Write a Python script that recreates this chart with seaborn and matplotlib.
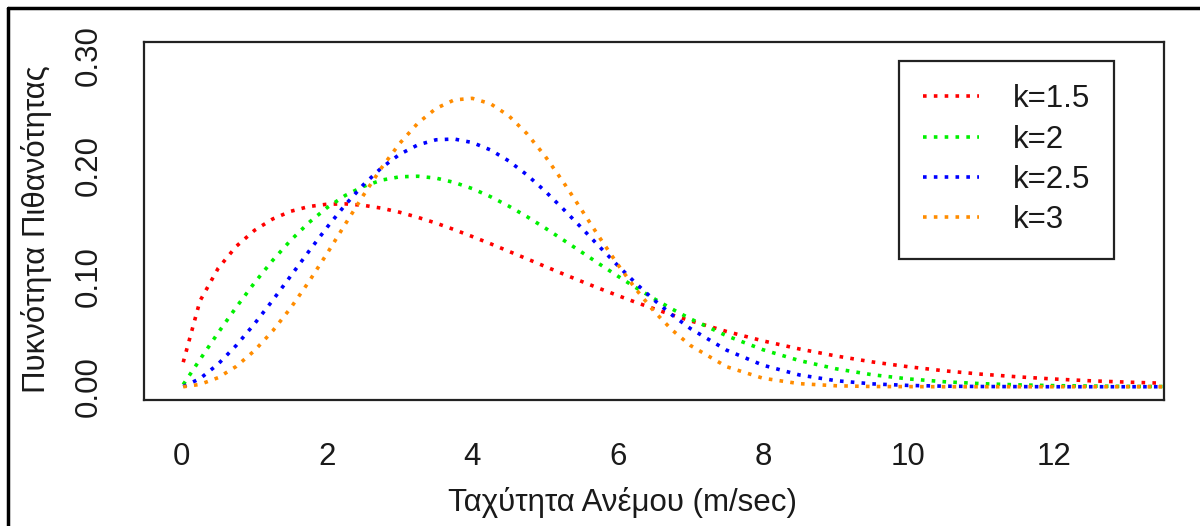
import numpy as np
import pandas as pd
import matplotlib
matplotlib.use("Agg")
import matplotlib.pyplot as plt
from matplotlib.lines import Line2D
import seaborn as sns

# Wind speed grid (m/sec) and densities
wind_speed = [0.02, 0.25, 0.5, 0.75, 1.0, 1.25, 1.5, 1.75, 2.0, 2.25, 2.5, 2.75, 3.0,
              3.25, 3.5, 3.75, 4.0, 4.25, 4.5, 4.75, 5.0, 5.25, 5.5, 5.75, 6.0, 6.25,
              6.5, 6.75, 7.0, 7.5, 8.0, 8.5, 9.0, 9.5, 10.0, 10.5, 11.0, 11.5, 12.0,
              12.5, 13.0, 13.5]

density_k15 = [0.0222, 0.0776, 0.1071, 0.1271, 0.1415, 0.1518, 0.1588, 0.1631, 0.1652,
               0.1655, 0.1642, 0.1616, 0.1579, 0.1533, 0.1481, 0.1422, 0.1359, 0.1294,
               0.1226, 0.1158, 0.1089, 0.1021, 0.0954, 0.0889, 0.0826, 0.0764, 0.0706,
               0.0650, 0.0597, 0.0500, 0.0415, 0.0342, 0.0279, 0.0225, 0.0181, 0.0144,
               0.0114, 0.0090, 0.0070, 0.0054, 0.0042, 0.0032]

density_k2 = [0.0020, 0.0246, 0.0488, 0.0720, 0.0940, 0.1143, 0.1326, 0.1486, 0.1621,
              0.1731, 0.1813, 0.1870, 0.1900, 0.1905, 0.1888, 0.1849, 0.1793, 0.1720,
              0.1635, 0.1540, 0.1437, 0.1329, 0.1220, 0.1110, 0.1002, 0.0897, 0.0797,
              0.0703, 0.0615, 0.0461, 0.0335, 0.0237, 0.0163, 0.0109, 0.0071, 0.0045,
              0.0028, 0.0017, 0.0010, 0.0006, 0.0003, 0.0002]

density_k25 = [0.0002, 0.0073, 0.0205, 0.0374, 0.0569, 0.0781, 0.1003, 0.1226, 0.1443,
               0.1646, 0.1828, 0.1982, 0.2104, 0.2189, 0.2235, 0.2242, 0.2210, 0.2143,
               0.2044, 0.1918, 0.1771, 0.1609, 0.1440, 0.1267, 0.1098, 0.0936, 0.0786,
               0.0649, 0.0527, 0.0331, 0.0195, 0.0107, 0.0055, 0.0026, 0.0012, 0.0005,
               0.0002, 0.0001, 0.0, 0.0, 0.0, 0.0]

density_k3 = [0.0000, 0.0021, 0.0082, 0.0184, 0.0326, 0.0504, 0.0714, 0.0951, 0.1206,
              0.1471, 0.1733, 0.1982, 0.2203, 0.2386, 0.2519, 0.2596, 0.2610, 0.2561,
              0.2453, 0.2291, 0.2088, 0.1854, 0.1604, 0.1351, 0.1108, 0.0883, 0.0683,
              0.0513, 0.0374, 0.0181, 0.0077, 0.0028, 0.0009, 0.0002, 0.0001, 0.0,
              0.0, 0.0, 0.0, 0.0, 0.0, 0.0]

k_labels = ["k=1.5", "k=2", "k=2.5", "k=3"]
x_ticks = [0, 2, 4, 6, 8, 10, 12]
y_ticks = [0.0, 0.05, 0.10, 0.15, 0.20, 0.25, 0.30]
y_ticklabels = ["0.00", "", "0.10", "", "0.20", "", "0.30"]

colors = ["#FF0000", "#00F000", "#0000FF", "#FF8C00"]

# long format table for seaborn
frames = []
for lab, dens in zip(k_labels, [density_k15, density_k2, density_k25, density_k3]):
    frames.append(pd.DataFrame({"speed": wind_speed, "density": dens, "k": lab}))
df = pd.concat(frames, ignore_index=True)

sns.set_style("white")
plt.rcParams["font.family"] = ["Liberation Sans", "DejaVu Sans"]
FS = 22.5

W, H = 1200, 526
fig = plt.figure(figsize=(W / 100, H / 100), dpi=100)
ax = fig.add_axes([144 / W, 1 - 400 / H, (1164 - 144) / W, (400 - 42) / H])

sns.lineplot(data=df, x="speed", y="density", hue="k", style="k",
             palette=dict(zip(k_labels, colors)),
             dashes={lab: (1, 2) for lab in k_labels},
             estimator=None, sort=False, linewidth=2.6, legend=False, ax=ax)

ax.set_xlim(-0.52, 13.52)
ax.set_ylim(-0.012, 0.312)
ax.set_xticks(x_ticks)
ax.set_xticklabels([str(t) for t in x_ticks])
ax.set_yticks(y_ticks)
ax.set_yticklabels(y_ticklabels, rotation=90, va="center")

for sp in ax.spines.values():
    sp.set_visible(True)
    sp.set_color("#222222")
    sp.set_linewidth(1.6)

ax.tick_params(axis="both", direction="out", length=13, width=1.5, color="#222222",
               labelsize=FS, labelcolor="#1a1a1a")
ax.tick_params(axis="x", pad=17)
ax.tick_params(axis="y", pad=16)

ax.set_xlabel("Ταχύτητα Ανέμου (m/sec)", fontsize=FS, color="#1a1a1a")
ax.set_ylabel("Πυκνότητα Πιθανότητας", fontsize=FS, color="#1a1a1a")
ax.xaxis.set_label_coords((623 - 144) / 1020, (400 - 487) / 358)
ax.yaxis.set_label_coords((52 - 144) / 1020, (400 - 229) / 358)

handles = [Line2D([0], [0], color=c, lw=2.6, linestyle=(0, (1, 2))) for c in colors]
leg = ax.legend(handles, k_labels, loc="upper right", bbox_to_anchor=(0.951, 0.947),
                frameon=True, fancybox=False, framealpha=1, edgecolor="#222222",
                fontsize=FS, handlelength=1.8, handletextpad=1.1, labelspacing=0.33,
                borderpad=0.75, borderaxespad=0)
leg.get_frame().set_linewidth(1.6)
for t in leg.get_texts():
    t.set_color("#1a1a1a")

# outer frame of the screenshot (top and left edges)
fig.add_artist(Line2D([8 / W, 1.0], [1 - 8 / H, 1 - 8 / H], transform=fig.transFigure,
                      color="black", lw=2.5))
fig.add_artist(Line2D([8 / W, 8 / W], [0, 1 - 8 / H], transform=fig.transFigure,
                      color="black", lw=2.5))

fig.savefig("out.png", dpi=100)
